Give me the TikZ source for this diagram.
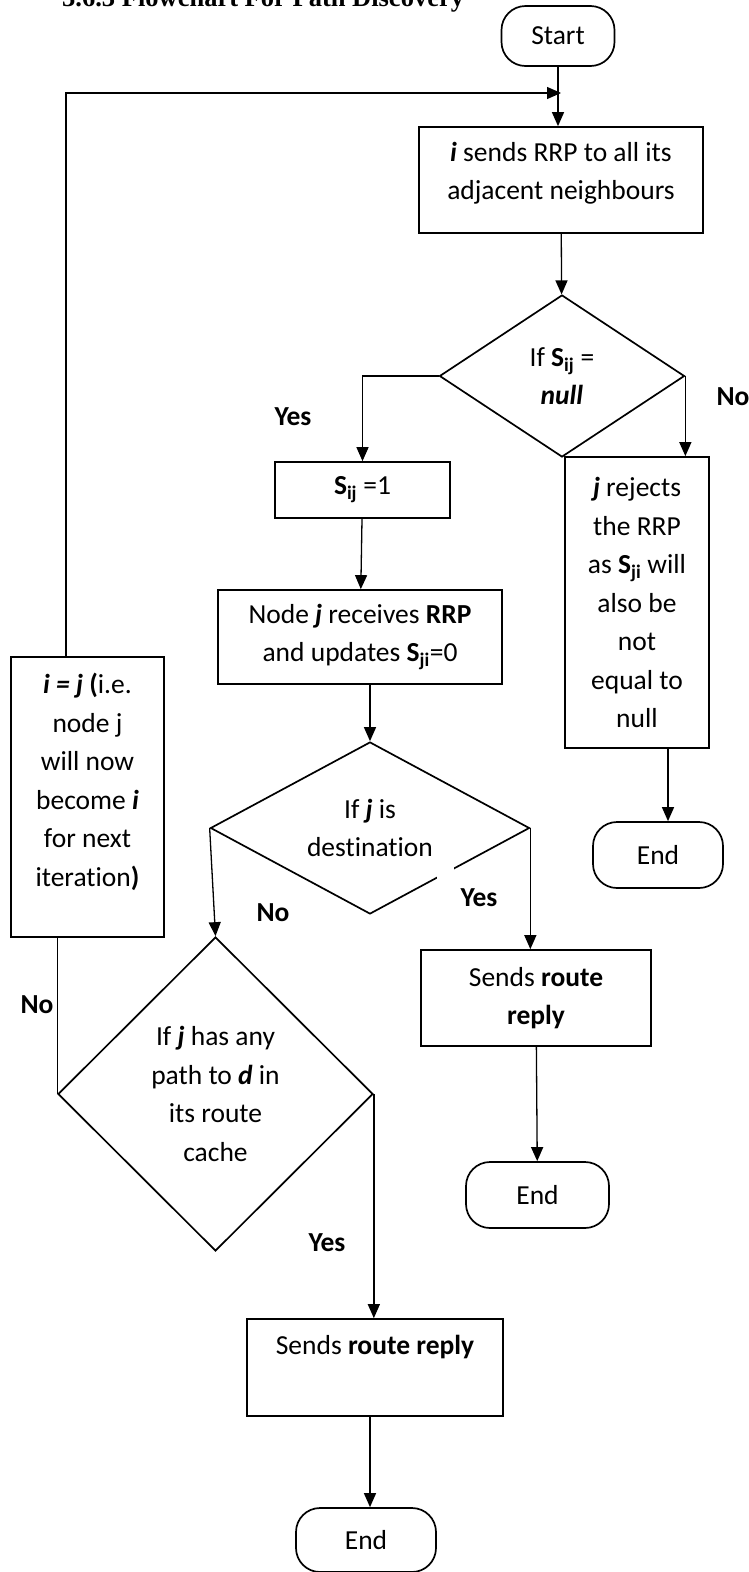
\documentclass[tikz,border=0pt]{standalone}
\usepackage{fontspec}
\setmainfont{Carlito}[Ligatures={NoCommon}]
\newfontfamily\titlefont{Liberation Serif}
\usetikzlibrary{shapes.geometric,arrows.meta,calc}
\begin{document}
\begin{tikzpicture}[x=1pt,y=-1pt,
  every node/.style={font=\fontsize{27.5}{38.5}\selectfont, inner sep=0pt},
  box/.style={draw, line width=1.7pt, align=center},
  term/.style={draw, line width=1.7pt, rounded corners=24pt},
  dec/.style={draw, diamond, line width=1.7pt, align=center},
  conn/.style={line width=1.3pt},
  arr/.style={conn, -{Triangle[length=14pt,width=12pt]}},
  lbl/.style={font=\fontsize{27.5}{38.5}\selectfont\bfseries}]
\useasboundingbox (0,0) rectangle (749,1572);
\clip (0,0) rectangle (749,1572);

\node[anchor=base west, font=\titlefont\fontsize{26.5}{30}\selectfont\bfseries] (title) at (62,6) {3.6.3 Flowchart For Path Discovery};

\node[term, minimum width=113pt, minimum height=60pt] (start) at (558,36) {Start};
\node[box, minimum width=284pt, minimum height=106pt] (box1) at (561,180) {\textbf{\textit{i}} sends RRP to all its\\adjacent neighbours\rule[-18pt]{0pt}{18pt}};
\node[dec, minimum width=245pt, minimum height=162pt, aspect=1.5] (d1) at (562,376) {If \textbf{S\textsubscript{ij}} =\\\textbf{\textit{null}}};
\node[box, minimum width=175pt, minimum height=56pt] (s1) at (362.5,490) {\textbf{S\textsubscript{ij}} =1};
\node[box, minimum width=284pt, minimum height=94pt] (nodej) at (360,637) {Node \textbf{\textit{j}} receives \textbf{RRP}\\and updates \textbf{S\textsubscript{ji}}=0};
\node[box, minimum width=144pt, minimum height=291pt] (rej) at (637,602.5) {\textbf{\textit{j}} rejects\\the RRP\\as \textbf{S\textsubscript{ji}} will\\also be\\not\\equal to\\null};
\node[term, minimum width=130pt, minimum height=66pt] (end1) at (658,855) {End};
\node[dec, minimum width=319pt, minimum height=172pt, aspect=1.85] (d2) at (370,828) {If \textbf{\textit{j}} is\\destination};
\node[box, minimum width=153pt, minimum height=280pt] (ij) at (87.5,797) {\textbf{\textit{i = j}} \textbf{(}i.e.\\node j\\will now\\become \textbf{\textit{i}}\\for next\\iteration\textbf{)}\rule[-34pt]{0pt}{34pt}};
\node[box, minimum width=230pt, minimum height=96pt] (rs) at (536,998) {Sends \textbf{route}\\\textbf{reply}};
\node[term, minimum width=143pt, minimum height=66pt] (end2) at (537.5,1195) {End};
\node[dec, minimum width=315pt, minimum height=314pt] (d3) at (215.5,1094) {If \textbf{\textit{j}} has any\\path to \textbf{\textit{d}} in\\its route\\cache};
\node[box, minimum width=256pt, minimum height=97pt] (bs) at (375,1367.5) {Sends \textbf{route reply}\rule[-45pt]{0pt}{45pt}};
\node[term, minimum width=140pt, minimum height=64pt] (end3) at (366,1540) {End};

\node[lbl] (yes1) at (293,417) {Yes};
\node[lbl] (no1) at (733,397) {No};
\node[lbl] (no2) at (273,913) {No};
\node[lbl] (yes2) at (479,898) {Yes};
\node[lbl] (no3) at (37,1005) {No};
\node[lbl] (yes3) at (327,1243) {Yes};

\coordinate (loopL) at (66,93);
\coordinate (loopR) at (561,93);
\coordinate (xrej) at (668,0);
\coordinate (xbs) at (370,0);

\draw[arr] (start.south) -- (start.south |- box1.north);
\draw[arr] (ij.north -| loopL) -- (loopL) -- (loopR);
\draw[arr] (box1) -- (d1);
\draw[arr] (d1.west) -| (s1.north);
\draw[arr] (d1.east) -- (d1.east |- rej.north);
\draw[arr] (s1) -- (nodej);
\draw[arr] (nodej.south -| d2.north) -- (d2.north);
\draw[arr] (d2.west) -- (d3.north);
\draw[arr] (d2.east) -- (d2.east |- rs.north);
\draw[arr] (rej.south -| xrej) -- (end1.north -| xrej);
\draw[arr] (rs) -- (end2);
\draw[arr] (d3.east) -- (d3.east |- bs.north);
\draw[conn] (d3.west) -- (d3.west |- ij.south);
\draw[arr] (bs.south -| xbs) -- (end3.north -| xbs);
\fill[white] (437,866) rectangle (454,880);
\end{tikzpicture}
\end{document}
